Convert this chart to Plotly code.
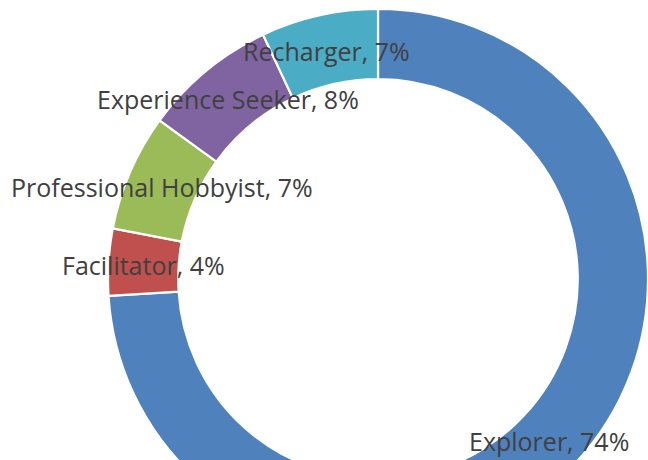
import math
import plotly.graph_objects as go

labels = ["Explorer", "Facilitator", "Professional Hobbyist", "Experience Seeker", "Recharger"]
values = [74, 4, 7, 8, 7]
colors = ["#4F81BD", "#C0504D", "#9BBB59", "#8064A2", "#4BACC6"]

W, H = 648, 558
x0, x1 = 0.1667, 1.0
hole = 0.74

fig = go.Figure(go.Pie(
    labels=labels, values=values, hole=hole, sort=False, direction="clockwise",
    rotation=0, marker=dict(colors=colors, line=dict(color="white", width=2.2)),
    textinfo="none", hoverinfo="label+percent", showlegend=False,
    domain=dict(x=[x0, x1], y=[0, 1]),
))

# label placement at the ring's mid-radius, at each slice's mid-angle
cx = (x0 + x1) / 2 * W
cy = H / 2
R = min((x1 - x0) * W, H) / 2
rmid = R * (1 + hole) / 2
total = sum(values)
cum = 0
for lab, v in zip(labels, values):
    ang = 2 * math.pi * (cum + v / 2) / total
    cum += v
    px = cx + rmid * math.sin(ang)
    py = cy - rmid * math.cos(ang) + 1
    fig.add_annotation(
        x=px / W, y=1 - py / H, xref="paper", yref="paper",
        text=f"{lab}, {round(100 * v / total)}%", showarrow=False,
        xanchor="center", yanchor="middle",
        font=dict(family="Open Sans", size=25, color="#404040"),
    )

fig.update_layout(
    width=W, height=H, margin=dict(l=0, r=0, t=0, b=0),
    paper_bgcolor="white", plot_bgcolor="white",
)

fig.write_html("out.html", config={"displayModeBar": False},
               post_script="document.body.style.margin='0';document.body.style.overflow='hidden';document.documentElement.style.overflow='hidden';")
